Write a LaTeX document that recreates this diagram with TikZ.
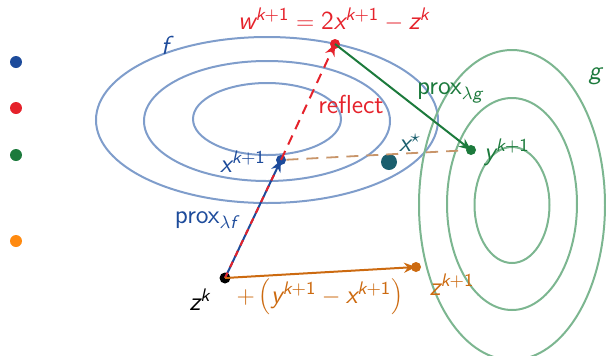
\documentclass[tikz,border=0pt]{standalone}
\usetikzlibrary{arrows.meta}
\DeclareSymbolFont{sfletters}{TU}{lmss}{m}{sl}
\DeclareSymbolFont{sfdigits}{TU}{lmss}{m}{n}
\DeclareMathSymbol{w}{\mathalpha}{sfletters}{`w}
\DeclareMathSymbol{x}{\mathalpha}{sfletters}{`x}
\DeclareMathSymbol{y}{\mathalpha}{sfletters}{`y}
\DeclareMathSymbol{z}{\mathalpha}{sfletters}{`z}
\DeclareMathSymbol{k}{\mathalpha}{sfletters}{`k}
\DeclareMathSymbol{f}{\mathalpha}{sfletters}{`f}
\DeclareMathSymbol{g}{\mathalpha}{sfletters}{`g}
\DeclareMathSymbol{1}{\mathalpha}{sfdigits}{`1}
\DeclareMathSymbol{2}{\mathalpha}{sfdigits}{`2}
\definecolor{fblue}{HTML}{7F9DCB}
\definecolor{dblue}{HTML}{1D4B9B}
\definecolor{dred}{HTML}{E5222B}
\definecolor{dgreen}{HTML}{1C7A3C}
\definecolor{gell}{HTML}{7CB690}
\definecolor{dorange}{HTML}{CC6A10}
\definecolor{lorange}{HTML}{FF8A10}
\definecolor{teal}{HTML}{1B5F6E}
\definecolor{tan}{HTML}{C8956A}
\begin{document}
\begin{tikzpicture}[x=0.5pt,y=-0.5pt,
  font=\fontsize{13}{15}\selectfont\sffamily,
  dot/.style={circle,fill,inner sep=0pt,minimum size=#1},
  dot/.default=5pt,
  ell/.style={line width=1pt},
  arr/.style={line width=1pt,-{Stealth[length=6pt,width=5pt]}},
  lbl/.style={inner sep=0pt}]
\useasboundingbox (0,0) rectangle (606,355);
\clip (0,0) rectangle (606,355);
% f level sets
\draw[ell,fblue] (267,120) ellipse [x radius=171, y radius=83];
\draw[ell,fblue] (267,121) ellipse [x radius=123, y radius=60];
\draw[ell,fblue] (267,119) ellipse [x radius=74, y radius=36];
% g level sets
\draw[ell,gell] (512,205) ellipse [x radius=93, y radius=155];
\draw[ell,gell] (512,204) ellipse [x radius=65, y radius=106];
\draw[ell,gell] (512,205) ellipse [x radius=37.5, y radius=58];
% legend dots
\node[dot=6pt,dblue] (lb) at (16,62) {};
\node[dot=6pt,dred] (lr) at (16,108) {};
\node[dot=6pt,dgreen] (lg) at (16,155) {};
\node[dot=6pt,lorange] (lo) at (16,241) {};
% points
\node[dot=5.5pt,black] (zk) at (225,278) {};
\node[dot=5pt,dblue] (xk) at (281,160) {};
\node[dot=5pt,dred] (w) at (335,44) {};
\node[dot=5pt,dgreen] (y) at (471,150) {};
\node[dot=8pt,teal] (xs) at (389,162) {};
\node[dot=5pt,dorange] (zk1) at (416,267) {};
% connectors
\draw[tan,line width=0.9pt,dash pattern=on 6pt off 4pt] (xk) -- (y);
\draw[arr,dblue] (zk.center) -- (xk.center);
\draw[dred,line width=1pt,dash pattern=on 3pt off 3pt,shorten >=6pt] (zk.center) -- (xk.center);
\draw[arr,dred,dash pattern=on 5pt off 3.5pt] (xk.center) -- (w.center);
\draw[arr,dgreen] (w.center) -- (y.center);
\draw[arr,dorange] (zk.center) -- (zk1.center);
% labels
\node[lbl,dred] (wl) at (334,20) {$w^{k+1} = 2x^{k+1} - z^k$};
\node[lbl,dblue] (fl) at (165,45) {$f$};
\node[lbl,dgreen] (gl) at (595,76) {$g$};
\node[lbl,dred] (rl) at (351,104) {reflect};
\node[lbl,dgreen] (pg) at (450,93) {prox$_{\lambda g}$};
\node[lbl,dblue] (xl) at (243,162) {$x^{k+1}$};
\node[lbl,teal] (xsl) at (410,143) {$x^{\star}$};
\node[lbl,dgreen] (yl) at (507,152) {$y^{k+1}$};
\node[lbl,dblue] (pf) at (206,220) {prox$_{\lambda f}$};
\node[lbl,black] (zl) at (200,300) {$z^k$};
\node[lbl,dorange] (pl) at (320,297) {$+\left(y^{k+1} - x^{k+1}\right)$};
\node[lbl,dorange] (z1l) at (452,285) {$z^{k+1}$};
\end{tikzpicture}
\end{document}
